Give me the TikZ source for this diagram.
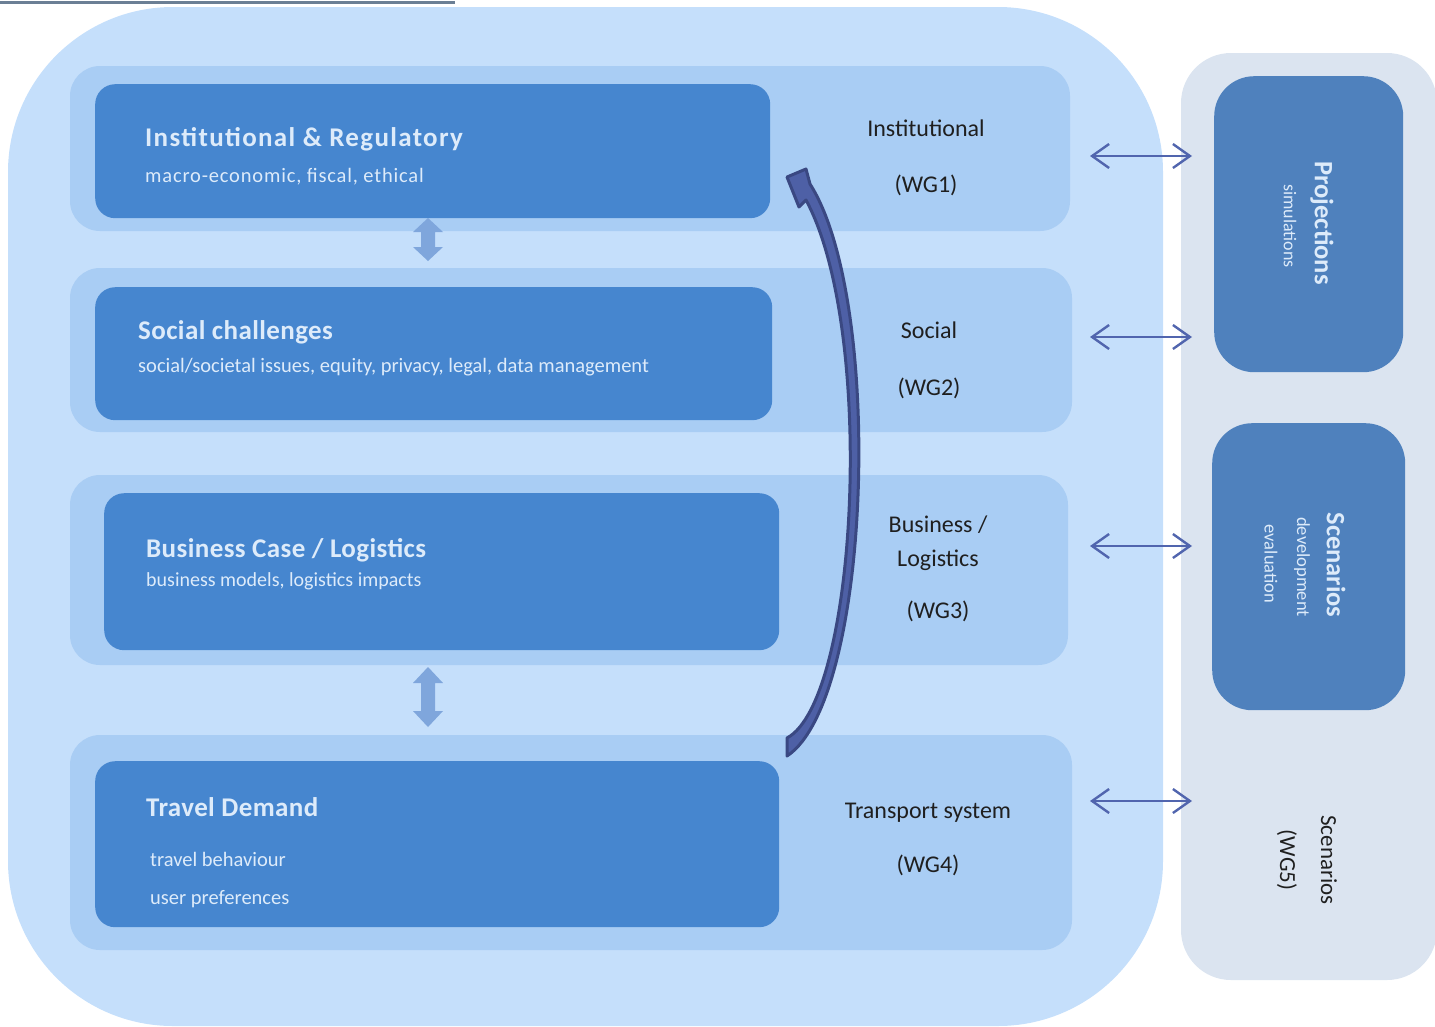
\documentclass[tikz,border=0pt]{standalone}
\usepackage{fontspec}
\setmainfont{Carlito}
\usetikzlibrary{arrows.meta}
\definecolor{outerbg}{HTML}{C5DFFB}
\definecolor{band}{HTML}{A9CDF4}
\definecolor{inbox}{HTML}{4686CF}
\definecolor{rpanel}{HTML}{DBE4F0}
\definecolor{rbox}{HTML}{4F81BD}
\definecolor{blockarr}{HTML}{7FA6DC}
\definecolor{harr}{HTML}{5165AE}
\definecolor{intext}{HTML}{DDEBFA}
\definecolor{curvdark}{HTML}{3A4882}
\definecolor{curvfill}{HTML}{4E60A6}
\definecolor{topline}{HTML}{6B7F95}
\tikzset{
  bandbox/.style={fill=band, draw=none, rounded corners=30pt},
  innerbox/.style={fill=inbox, draw=none, rounded corners=20pt},
  sidebox/.style={fill=rbox, draw=none, rounded corners=40pt},
  title/.style={anchor=base west, inner sep=0pt, text=intext, font=\fontsize{27}{32}\selectfont\bfseries\addfontfeatures{LetterSpace=1.5}},
  sub/.style={anchor=base west, inner sep=0pt, text=intext, font=\fontsize{20.5}{24}\selectfont},
  wglabel/.style={anchor=base, inner sep=0pt, text=black!88, font=\fontsize{24}{28}\selectfont},
  sidetitle/.style={rotate=-90, text=intext, font=\fontsize{26.5}{30}\selectfont\bfseries, inner sep=0pt},
  sidesub/.style={rotate=-90, text=intext, font=\fontsize{18.5}{22}\selectfont, inner sep=0pt},
  hdarrow/.style={draw=harr, line width=2.4pt, {Straight Barb[length=17pt,width=24pt,line width=2.4pt]}-{Straight Barb[length=17pt,width=24pt,line width=2.4pt]}},
}
\begin{document}
\begin{tikzpicture}[x=1pt,y=-1pt]
\useasboundingbox (0,0) rectangle (1435,1026);
\clip (0,0) rectangle (1435,1026);
% top line
\draw[topline, line width=3pt] (0,2) -- (455,2);
% outer background
\fill[outerbg, rounded corners=165pt] (8,7) rectangle (1163,1026);
% right panel
\fill[rpanel, rounded corners=50pt] (1181,53) rectangle (1437,980);
% bands
\fill[bandbox] (70,66) rectangle (1070,231);
\fill[bandbox] (70,268) rectangle (1072,432);
\fill[bandbox] (70,475) rectangle (1068,665);
\fill[bandbox] (70,735) rectangle (1072,950);
% inner boxes
\node[innerbox, minimum width=675pt, minimum height=134pt, anchor=north west, inner sep=0pt] (b1) at (95,84) {};
\node[innerbox, minimum width=677pt, minimum height=133pt, anchor=north west, inner sep=0pt] (b2) at (95,287) {};
\node[innerbox, minimum width=675pt, minimum height=157pt, anchor=north west, inner sep=0pt] (b3) at (104,493) {};
\node[innerbox, minimum width=684pt, minimum height=166pt, anchor=north west, inner sep=0pt] (b4) at (95,761) {};
% texts in boxes
\node[title, font=\fontsize{27}{32}\selectfont\bfseries\addfontfeatures{LetterSpace=5}] (t1) at (145,146) {Institutional \& Regulatory};
\node[sub, font=\fontsize{20.5}{24}\selectfont\addfontfeatures{LetterSpace=4}] (s1) at (145,182) {macro-economic, fiscal, ethical};
\node[title] (t2) at (138,339) {Social challenges};
\node[sub] (s2) at (138,372) {social/societal issues, equity, privacy, legal, data management};
\node[title] (t3) at (146,557) {Business Case / Logistics};
\node[sub, font=\fontsize{20}{24}\selectfont] (s3) at (146,586) {business models, logistics impacts};
\node[title] (t4) at (146,816) {Travel Demand};
\node[sub] (s4a) at (150,866) {travel behaviour};
\node[sub] (s4b) at (150,904) {user preferences};
% WG labels
\node[wglabel] (l1a) at (926,136) {Institutional};
\node[wglabel] (l1b) at (926,192) {(WG1)};
\node[wglabel] (l2a) at (929,338) {Social};
\node[wglabel] (l2b) at (929,395) {(WG2)};
\node[wglabel] (l3a) at (938,532) {Business /};
\node[wglabel] (l3b) at (938,566) {Logistics};
\node[wglabel] (l3c) at (938,618) {(WG3)};
\node[wglabel] (l4a) at (928,818) {Transport system};
\node[wglabel] (l4b) at (928,872) {(WG4)};
% side boxes
\node[sidebox, minimum width=189pt, minimum height=296pt, anchor=north west, inner sep=0pt] (proj) at (1214,76) {};
\node[sidebox, minimum width=193pt, minimum height=287pt, anchor=north west, inner sep=0pt] (scen) at (1212,423) {};
\node[sidetitle] (pt) at (1322,223) {Projections};
\node[sidesub, font=\fontsize{18}{22}\selectfont] (ps) at (1290,226) {simulations};
\node[sidetitle] (st) at (1336,565) {Scenarios};
\node[sidesub] (sd) at (1302,567) {development};
\node[sidesub] (se) at (1271,564) {evaluation};
\node[rotate=-90, text=black!88, font=\fontsize{23}{27}\selectfont, inner sep=0pt] (wg5a) at (1329,860) {Scenarios};
\node[rotate=-90, text=black!88, font=\fontsize{23}{27}\selectfont, inner sep=0pt] (wg5b) at (1287,860) {(WG5)};
% horizontal double arrows
\coordinate (h1l) at (1090,156); \coordinate (h1r) at (1192,156);
\coordinate (h2l) at (1090,337); \coordinate (h2r) at (1192,337);
\coordinate (h3l) at (1090,546); \coordinate (h3r) at (1192,546);
\coordinate (h4l) at (1090,801); \coordinate (h4r) at (1192,801);
\draw[hdarrow] (h1l) -- (h1r);
\draw[hdarrow] (h2l) -- (h2r);
\draw[hdarrow] (h3l) -- (h3r);
\draw[hdarrow] (h4l) -- (h4r);
% vertical block double arrows
\fill[blockarr] (428,218) -- (443,232) -- (435,232) -- (435,247) -- (443,247) -- (428,261) -- (413,247) -- (421,247) -- (421,232) -- (413,232) -- cycle;
\fill[blockarr] (428,667) -- (443,683) -- (435,683) -- (435,711) -- (443,711) -- (428,727) -- (413,711) -- (421,711) -- (421,683) -- (413,683) -- cycle;
% curved arrow
\filldraw[fill=curvfill, draw=curvdark, line width=3pt, line join=round]
  (787,756) -- (787,738)
  .. controls (858,700) and (876,330) .. (806,200)
  -- (799,207) -- (787,177) -- (806,169) -- (810,184)
  .. controls (884,300) and (872,700) .. (787,756) -- cycle;
\end{tikzpicture}
\end{document}
